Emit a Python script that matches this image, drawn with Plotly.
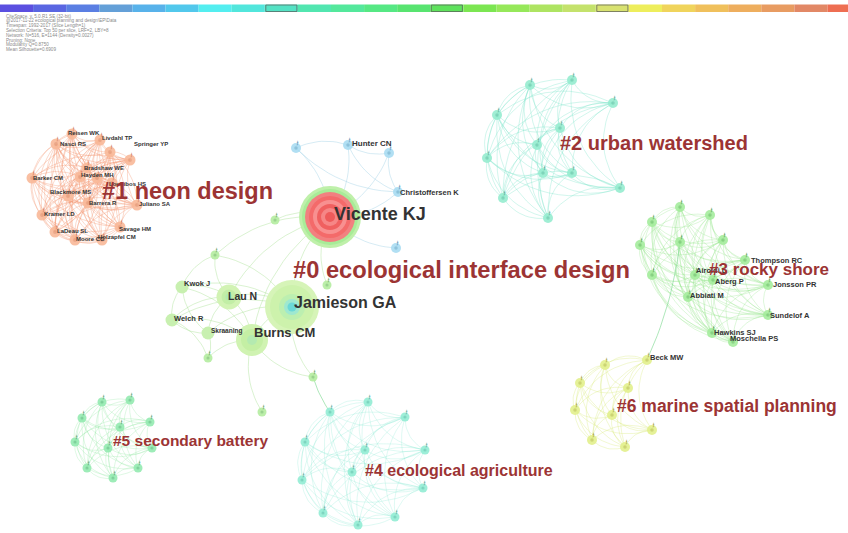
import plotly.graph_objects as go

W, H = 848, 533

# ---------------- data ----------------
timeline_colors = ["#5b4fe0", "#5a66e2", "#5b7fe3", "#64a0d8", "#58b2ea", "#52c8ec",
                   "#54eef0", "#52e6dc", "#54e2c4", "#52e6b0", "#54e89c", "#56e884",
                   "#58e470", "#5ee25c", "#7ce652", "#96e85a", "#aee462", "#c4e26c",
                   "#d8e270", "#eeee5c", "#f0d45c", "#f0c05c", "#eeae5e", "#e89c62",
                   "#e28866", "#ee6e52"]
highlight_slices = [8, 13, 18]

info_lines = ["CiteSpace, v. 5.0.R1 SE (32-bit)",
              "@2017-11-22 ecological planning and design\\EP\\Data",
              "Timespan: 1992-2017 (Slice Length=1)",
              "Selection Criteria: Top 50 per slice, LRF=2, LBY=8",
              "Network: N=516, E=1144 (Density=0.0027)",
              "Pruning: None",
              "Modularity Q=0.8750",
              "Mean Silhouette=0.6909"]

# cluster #0 ecological interface design (green part)
c0_x = [330, 292, 252, 229, 182, 172, 208, 215, 327, 208, 313, 262, 275]
c0_y = [217, 307, 340, 297, 287, 320, 333, 255, 285, 358, 377, 412, 220]
c0_edges = [(0, 1), (0, 2), (0, 3), (0, 12), (0, 8), (0, 7), (1, 2), (1, 3), (1, 4), (1, 5),
            (1, 6), (1, 7), (2, 3), (2, 4), (2, 5), (2, 6), (2, 9), (2, 10), (2, 11), (3, 4),
            (3, 5), (3, 6), (4, 5), (4, 6), (5, 6), (7, 4), (7, 3), (9, 5), (9, 6), (1, 10)]
# blue nodes attached to Vicente KJ
cb_x = [348, 296, 389, 398, 396]
cb_y = [145, 148, 153, 192, 248]
cb_edges = [(0, 1), (0, 2), (0, 3), (2, 3), (1, 3)]

# cluster #1 neon design
c1_x = [72, 56, 100, 130, 87, 80, 32, 112, 68, 88, 137, 42, 55, 75, 102, 120, 97, 110]
c1_y = [134, 144, 140, 160, 168, 177, 178, 183, 196, 203, 205, 215, 232, 240, 240, 227, 178, 152]
# cluster #2 urban watershed
c2_x = [530, 572, 613, 497, 560, 537, 487, 543, 572, 620, 503, 548]
c2_y = [85, 80, 103, 115, 128, 145, 158, 173, 173, 188, 198, 218]
# cluster #3 rocky shore
c3_x = [680, 652, 710, 640, 680, 723, 652, 695, 745, 713, 768, 688, 768, 712, 733]
c3_y = [207, 222, 215, 245, 242, 240, 275, 275, 260, 280, 285, 297, 315, 333, 342]
# cluster #4 ecological agriculture
c4_x = [368, 330, 405, 305, 365, 425, 352, 302, 423, 323, 395, 358]
c4_y = [402, 412, 417, 442, 450, 450, 472, 480, 488, 513, 517, 525]
# cluster #5 secondary battery
c5_x = [102, 130, 82, 150, 120, 75, 108, 152, 87, 138, 113]
c5_y = [402, 400, 418, 422, 427, 442, 448, 448, 468, 468, 478]
# cluster #6 marine spatial planning (first node = Beck MW)
c6_x = [647, 605, 580, 628, 575, 612, 652, 592, 625]
c6_y = [360, 365, 383, 388, 410, 415, 430, 440, 447]

# links between clusters: (from x, from y, to x, to y)
bridge_x0 = [647, 313, 262]
bridge_y0 = [360, 377, 412]
bridge_x1 = [680, 330, 262]
bridge_y1 = [242, 412, 412]

# node labels
author_names = ["Vicente KJ", "Jamieson GA", "Burns CM", "Lau N", "Kwok J", "Welch R",
                "Skraaning", "Hunter CN", "Christoffersen K",
                "Reisen WK", "Nasci RS", "Livdahl TP", "Springer YP", "Bradshaw WE",
                "Hayden MH", "Barker CM", "Lounibos HS", "Blackmore MS", "Barrera R",
                "Juliano SA", "Kramer LD", "Savage HM", "LaDeau SL", "Holzapfel CM",
                "Moore CG",
                "Thompson RC", "Airoldi L", "Aberg P", "Jonsson PR", "Abbiati M",
                "Sundelof A", "Hawkins SJ", "Moschella PS", "Beck MW"]
author_x = [333, 293, 253, 227, 183, 173, 210, 351, 399,
            67, 59, 101, 133, 83, 80, 32, 108, 49, 88, 138, 43, 118, 56, 97, 75,
            750, 695, 714, 772, 689, 769, 713, 729, 649]
author_y = [214, 302, 332, 296, 283, 318, 331, 143, 192,
            133, 144, 138, 144, 168, 175, 178, 184, 192, 203, 204, 214, 229, 231, 237, 239,
            260, 270, 281, 284, 295, 315, 332, 338, 357]
author_font = [18, 16, 13, 10.5, 7.5, 7.5, 6.5, 8, 7.5] + [6] * 16 + [7.5] * 9

cluster_labels = ["#0 ecological interface design", "#1 neon design", "#2 urban watershed",
                  "#3 rocky shore", "#4 ecological agriculture", "#5 secondary battery",
                  "#6 marine spatial planning"]
cluster_label_x = [292, 101, 559, 708, 364, 112, 616]
cluster_label_y = [270, 191, 143, 269, 470, 440, 406]
cluster_label_font = [23.7, 23.5, 20, 17, 16, 15.5, 17.5]

# ---------------- helpers ----------------
def arc(xa, ya, xb, yb, k=0.28, n=14):
    mx, my = (xa + xb) / 2, (ya + yb) / 2
    cx, cy = mx - (yb - ya) * k, my + (xb - xa) * k
    xs, ys = [], []
    for i in range(n + 1):
        t = i / n
        xs.append((1 - t) ** 2 * xa + 2 * (1 - t) * t * cx + t ** 2 * xb)
        ys.append((1 - t) ** 2 * ya + 2 * (1 - t) * t * cy + t ** 2 * yb)
    return xs, ys


def edge_trace(xs, ys, pairs, color, k=0.28, width=0.8):
    ex, ey = [], []
    for a, b in pairs:
        px, py = arc(xs[a], ys[a], xs[b], ys[b], k)
        ex += px + [None]
        ey += py + [None]
    return go.Scatter(x=ex, y=ey, mode="lines", line=dict(color=color, width=width),
                      hoverinfo="skip")


def all_pairs(n):
    return [(i, j) for i in range(n) for j in range(i + 1, n)]


fig = go.Figure()

# ---------------- edges ----------------
fig.add_trace(edge_trace(c1_x, c1_y, all_pairs(len(c1_x)), "rgba(244,150,115,0.45)", 0.25))
fig.add_trace(edge_trace(c2_x, c2_y, all_pairs(len(c2_x)), "rgba(120,228,200,0.42)", 0.3))
fig.add_trace(edge_trace(c3_x, c3_y, all_pairs(len(c3_x)), "rgba(140,228,130,0.36)", 0.3))
fig.add_trace(edge_trace(c4_x, c4_y, all_pairs(len(c4_x)), "rgba(120,228,205,0.30)", 0.3))
fig.add_trace(edge_trace(c5_x, c5_y, all_pairs(len(c5_x)), "rgba(130,228,150,0.32)", 0.3))
fig.add_trace(edge_trace(c6_x, c6_y, all_pairs(len(c6_x)), "rgba(215,235,120,0.42)", 0.3))
fig.add_trace(edge_trace(c0_x, c0_y, c0_edges, "rgba(170,225,150,0.55)", 0.22))
bx = [c0_x[0]] + cb_x
by = [c0_y[0]] + cb_y
fig.add_trace(edge_trace(bx, by, [(0, i + 1) for i in range(len(cb_x))] +
                         [(a + 1, b + 1) for a, b in cb_edges],
                         "rgba(160,210,230,0.55)", 0.2))
brx, bry = [], []
for i in range(len(bridge_x0)):
    brx += [bridge_x0[i], bridge_x1[i]]
    bry += [bridge_y0[i], bridge_y1[i]]
fig.add_trace(edge_trace(brx, bry, [(2 * i, 2 * i + 1) for i in range(len(bridge_x0))],
                         "rgba(120,215,140,0.6)", 0.08, 1.0))

# ---------------- nodes ----------------
def nodes(xs, ys, fill, size=10, tag="#6a6a6a"):
    fig.add_trace(go.Scatter(x=xs, y=ys, mode="markers",
                             marker=dict(size=size, color=fill, opacity=0.9,
                                         line=dict(width=0)), hoverinfo="skip"))
    fig.add_trace(go.Scatter(x=xs, y=ys, mode="markers",
                             marker=dict(size=max(3, size * 0.35), color=tag, opacity=0.35),
                             hoverinfo="skip"))
    fig.add_trace(go.Scatter(x=[v + 1.5 for v in xs], y=[v - 6 for v in ys], mode="text",
                             text=["ɟ"] * len(xs),
                             textfont=dict(size=6, color=tag, family="DejaVu Sans"),
                             hoverinfo="skip"))

nodes(c1_x, c1_y, "#f8b898", 11, "#d08060")
nodes(c2_x, c2_y, "#96eccf", 10, "#50a890")
nodes(c3_x, c3_y, "#a4ec9c", 10, "#50a050")
nodes(c4_x, c4_y, "#92ecd4", 9, "#50a898")
nodes(c5_x, c5_y, "#94eab0", 9, "#50a070")
nodes(c6_x, c6_y, "#e2f08c", 10, "#a0a040")
nodes(cb_x, cb_y, "#a8dcf2", 10, "#5090b0")
nodes(c0_x[7:], c0_y[7:], "#b4eca0", 9, "#60a060")

# larger cluster-0 nodes with rings
small_hubs = [(4, 13), (5, 13), (6, 13)]
for idx, s in small_hubs:
    fig.add_trace(go.Scatter(x=[c0_x[idx]], y=[c0_y[idx]], mode="markers",
                             marker=dict(size=s, color="#c8f0b0"), hoverinfo="skip"))
rings = {
    0: [(62, "#bff0aa"), (56, "#a8ec98"), (50, "#f28080"), (42, "#f46a6a"),
        (34, "#f89090"), (26, "#f06060"), (18, "#f68686"), (10, "#ee5a5a")],
    1: [(54, "#d6f4b8"), (44, "#cdf2ac"), (26, "#bcefb0"), (16, "#9ee8d0"), (9, "#6ad8d8")],
    2: [(32, "#d0f3b2"), (22, "#c4efa4"), (10, "#b4eab0")],
    3: [(25, "#d2f3b4"), (15, "#c2eea6"), (7, "#b0eab0")],
}
for idx, lst in rings.items():
    for s, col in lst:
        fig.add_trace(go.Scatter(x=[c0_x[idx]], y=[c0_y[idx]], mode="markers",
                                 marker=dict(size=s, color=col, line=dict(width=0)),
                                 hoverinfo="skip"))

# ---------------- timeline bar ----------------
seg_w = 33.1
shapes = []
for i, col in enumerate(timeline_colors):
    shapes.append(dict(type="rect", xref="x", yref="y", x0=i * seg_w, x1=min(W, (i + 1) * seg_w),
                       y0=4.5, y1=12, fillcolor=col, line=dict(width=0), layer="above"))
for i in highlight_slices:
    shapes.append(dict(type="rect", xref="x", yref="y", x0=i * seg_w + 1, x1=(i + 1) * seg_w - 1,
                       y0=5, y1=11.5, fillcolor="rgba(0,0,0,0)",
                       line=dict(width=1, color="rgba(90,90,90,0.7)"), layer="above"))

# ---------------- text ----------------
annotations = []
for i, line in enumerate(info_lines):
    annotations.append(dict(x=4, y=16 + i * 4.8, xref="x", yref="y", text=line, showarrow=False,
                            xanchor="left", yanchor="middle",
                            font=dict(size=4.6, color="#8a8a8a", family="Liberation Sans")))
for t, x, y, s in zip(author_names, author_x, author_y, author_font):
    annotations.append(dict(x=x, y=y, xref="x", yref="y", text=t, showarrow=False,
                            xanchor="left", yanchor="middle", borderpad=0,
                            font=dict(size=s, color="#333333", family="Liberation Sans",
                                      weight="bold")))
for t, x, y, s in zip(cluster_labels, cluster_label_x, cluster_label_y, cluster_label_font):
    annotations.append(dict(x=x, y=y, xref="x", yref="y", text=t, showarrow=False,
                            xanchor="left", yanchor="middle", borderpad=0,
                            font=dict(size=s, color="#9c3434", family="Liberation Sans",
                                      weight="bold")))

fig.update_layout(width=W, height=H, margin=dict(l=0, r=0, t=0, b=0),
                  paper_bgcolor="white", plot_bgcolor="white", showlegend=False,
                  xaxis=dict(range=[0, W], visible=False, fixedrange=True),
                  yaxis=dict(range=[H, 0], visible=False, fixedrange=True),
                  shapes=shapes, annotations=annotations)

fig.write_html("out.html", config={"displayModeBar": False},
               post_script="document.body.style.margin='0';document.body.style.overflow='hidden';")
